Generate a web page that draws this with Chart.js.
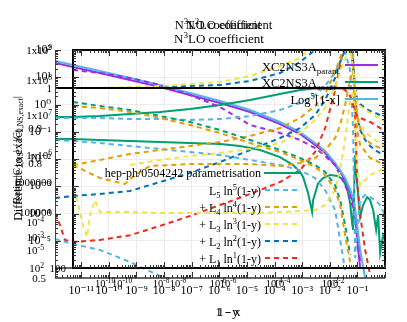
<!DOCTYPE html>
<html><head><meta charset="utf-8">
<script src="https://cdn.jsdelivr.net/npm/chart.js@4/dist/chart.umd.min.js"></script>
<style>html,body{margin:0;padding:0;background:#fff;overflow:hidden}#wrap{width:407px;height:322px}</style>
</head><body><div id="wrap"><canvas id="c" width="407" height="322"></canvas></div>
<script>
// ---- axis ticks ----
const xTickValues = [1e-11,1e-10,1e-9,1e-8,1e-7,1e-6,1e-5,1e-4,1e-3,1e-2,1e-1];
const xTickLabels = ['10⁻¹¹','10⁻¹⁰','10⁻⁹','10⁻⁸','10⁻⁷','10⁻⁶','10⁻⁵','10⁻⁴','10⁻³','10⁻²','10⁻¹'];
const yTickValues = [100,10,1,0.1,0.01,0.001,1e-4,1e-5];
const yTickLabels = ['10²','10¹','10⁰','10⁻¹','10⁻²','10⁻³','10⁻⁴','10⁻⁵'];

// ---- shared 1-y grid ----
const xGrid = [1.12e-12,5e-12,4.76e-11,5.82e-10,7.11e-9,8.69e-8,1.06e-6,1.30e-5,1.58e-4,8.4e-4,2.94e-3,6.8e-3,0.0156,0.0237,0.0359,0.0545,0.0700,0.0826,0.0977,0.126,0.191,0.289,0.439,0.666,1.0];

const paramSolid = [33.3,23.8,14.3,7.9,4.39,2.23,1.13,0.53,0.192,0.0826,0.0327,0.0166,0.006,0.00334,0.0017,6.2e-4,2.43e-4,8.8e-5,1.26e-5,1e-6,null,null,null,null,null];
const log5Solid = [39.5,28.2,16.9,9.4,5.2,2.64,1.34,0.63,0.228,0.098,0.0386,0.0197,0.0071,0.0039,0.00201,7.9e-4,3.7e-4,1.59e-4,3.8e-5,4.6e-6,4.3e-7,null,null,null,null];
const paramDashed = [null,18.5,14.3,9.4,5.2,2.23,0.81,0.177,0.090,0.050,0.0253,0.0129,0.006,0.0026,0.0011,3.7e-4,1.59e-4,5.8e-5,1.07e-5,1.66e-6,null,null,null,null,null];
const exactSolid = [0.35,0.35,0.378,0.448,0.53,0.684,0.96,1.46,2.43,3.4,3.86,3.86,3.86,3.86,3.86,3.86,3.86,3.86,3.86,3.86,3.86,3.86,3.86,3.86,3.86];
const redFlat = [4.04,4.04,4.04,4.04,4.04,4.04,4.04,4.04,4.04,4.04,4.04,4.04,4.04,4.04,3.4,2.05,0.96,0.53,0.378,0.32,0.27,0.228,0.177,0.137,0.098];
const yellowUp = [4.04,4.04,4.04,4.39,4.77,5.65,6.7,11.1,25.9,50.8,181,542,826,826,542,152,18.5,3.4,1.46,0.88,0.63,0.49,0.378,0.294,0.228];
const blueUp = [4.04,4.04,4.04,4.04,4.39,4.77,5.2,7.3,14.3,36.3,100,275,641,826,542,152,21.8,4.04,1.73,1.04,0.745,0.577,0.49,0.41,0.35];
const greenDashed = [null,1.24,0.88,0.63,0.378,0.228,0.116,0.050,0.0214,0.0109,0.006,0.00334,0.0011,3.1e-4,3.8e-5,3.0e-6,null,null,null,null,null,null,null,null,null];
const orangeDown = [null,0.88,0.745,0.53,0.32,0.177,0.090,0.0386,0.0181,0.0092,0.00508,0.0026,7.3e-4,2.05e-4,1.6e-5,1.66e-6,null,null,null,null,null,null,null,null,null];
const orangeUp = [null,0.006,0.0092,0.0153,0.0214,0.030,0.042,0.070,0.137,0.32,0.88,2.43,15.6,50.8,152,233,43,2.23,0.41,0.137,0.059,0.0386,0.030,0.0253,0.0214];
const skyDashedA = [0.32,0.32,0.32,0.294,0.294,0.27,0.294,0.378,0.63,1.13,2.23,4.77,15.6,36.3,84.5,18.5,0.116,2.33e-6,2.5e-5,3.1e-4,4.8e-4,4.0e-4,3.1e-4,2.05e-4,8.8e-5];
const skyDashedB = [0.050,0.0458,0.0386,0.030,0.0233,0.0181,0.014,0.0092,0.006,0.0039,0.00201,7.3e-4,1.34e-4,1.07e-5,8.5e-7,null,null,null,null,null,null,null,null,null,null];
const blueLow = [3.7e-4,4.39e-4,5.2e-4,6.7e-4,0.00143,0.0031,0.00776,0.0214,0.059,0.137,0.41,1.46,9.4,36.3,100,152,43,2.23,0.41,0.116,0.050,0.030,0.0214,0.0166,0.014];

// series with their own 1-y points
const refX = [1.12e-12,1.0];
const refY = [4.04,4.04];
const redLowX = [1.12e-12,1.69e-12,2.57e-12,5e-12,4.76e-11,5.82e-10,7.11e-9,8.69e-8,1.06e-6,1.30e-5,1.58e-4,8.4e-4,2.94e-3,6.8e-3,0.0156,0.0237,0.0359,0.0545,0.0700,0.0826,0.0977,0.126,0.191,0.289];
const redLowY = [1.04e-4,3.8e-5,1.07e-5,9.0e-6,1.07e-5,1.6e-5,3.5e-5,8.1e-5,2.05e-4,5.2e-4,1.43e-3,3.9e-3,0.0181,0.137,3.4,28.2,233,355,43,0.27,0.0017,8.8e-5,4.6e-6,5.5e-7];
const orangeMidX = [5e-12,4.76e-11,3.84e-10,8.83e-10,3.09e-9,8.69e-8,1.06e-6,1.30e-5,1.58e-4,8.4e-4,2.94e-3,6.8e-3,0.0156,0.0237,0.0359,0.0545,0.0700,0.0826,0.0977,0.126,0.289,1.0];
const orangeMidY = [0.006,0.00201,0.00121,0.0026,0.00553,0.00656,0.00656,0.00656,0.00553,0.0071,0.0109,0.0214,0.059,0.177,0.96,7.9,18.5,1.46,0.116,0.0327,0.0109,0.006];
const skyLowX = [1.12e-12,5e-12,4.76e-11,5.82e-10,7.11e-9,3.78e-8];
const skyLowY = [1.16e-5,7.6e-6,4.6e-6,1.66e-6,5.1e-7,1.56e-7];
const yellowLowX = [5e-12,7.0e-12,9.0e-12,1.15e-11,1.61e-11,2.07e-11,3.14e-11,4.76e-11,5.82e-10,7.11e-9,8.69e-8,1.06e-6,1.30e-5,1.58e-4,8.4e-4,2.94e-3,6.8e-3,0.0156,0.0237,0.0359,0.0545,0.0700,0.0826,0.0977,0.126,0.289,1.0];
const yellowLowY = [8.6e-4,3.1e-4,1.13e-4,3.8e-5,1.37e-5,8.8e-5,3.1e-4,1.13e-4,1.13e-4,1.04e-4,1.04e-4,1.04e-4,1.04e-4,1.13e-4,1.24e-4,1.34e-4,2.05e-4,7.3e-4,0.0039,0.050,1.46,3.4,0.116,0.0039,0.0011,0.0026,0.00468];
const yellowMidX = [5.82e-10,7.11e-9,8.69e-8,1.06e-6,1.30e-5,1.58e-4,8.4e-4,2.94e-3,6.8e-3,0.0156,0.0237,0.0359,0.0545,0.0700,0.0826,0.0977,0.126,0.191,0.439,1.0];
const yellowMidY = [0.006,0.0092,0.0129,0.0166,0.0233,0.0386,0.090,0.27,0.745,4.04,15.6,50.8,100,28.2,2.23,0.53,0.177,0.098,0.050,0.030];
const hepX = [1.12e-12,5e-12,4.76e-11,5.82e-10,7.11e-9,8.69e-8,1.06e-6,5.64e-6,2.99e-5,1.58e-4,4.69e-4,8.4e-4,1.08e-3,1.64e-3,2.29e-3,2.49e-3,3.78e-3,5.73e-3,0.01026,0.0200,0.0304,0.0424,0.0545,0.0643,0.0700,0.0826,0.0977,0.126,0.161,0.225,0.289,0.372,0.477,0.564,0.666,0.855,1.0];
const hepY = [0.0542,0.0542,0.050,0.0458,0.042,0.0386,0.0355,0.030,0.0214,0.0118,0.006,0.00334,0.0022,5.65e-4,1.13e-4,3.1e-4,0.0013,0.00201,0.0026,0.00238,0.0017,8.6e-4,2.43e-4,4.5e-5,2.5e-5,0.014,0.0013,7.4e-5,2.05e-4,4.0e-4,3.1e-4,1.34e-4,2.5e-5,8.8e-5,3.55e-6,1.6e-5,1.07e-5];

const COL = {purple:'#9a2ee0', green:'#009E73', sky:'#56B4E9', orange:'#E69F00', yellow:'#F0E442', blue:'#0072B2', red:'#EE2A1B', black:'#000000'};
const FONT = "'Liberation Serif','DejaVu Serif',serif";

function pts(xs, ys){ return xs.map((x,i)=>({x:x, y:ys[i]})); }
function ds(label, xs, ys, color, dashed, width){
  return {label, data: pts(xs, ys), borderColor: color, backgroundColor: color, borderWidth: width||2,
    borderDash: dashed ? [5,4] : [], pointRadius: 0, fill: false, tension: 0, spanGaps: false};
}

const datasets = [
  ds('ref', refX, refY, COL.black, false, 1.8),
  ds('L1a', xGrid, redFlat, COL.red, true),
  ds('L3a', xGrid, yellowUp, COL.yellow, true),
  ds('L2a', xGrid, blueUp, COL.blue, true),
  ds('L4a', xGrid, orangeDown, COL.orange, true),
  ds('G1', xGrid, greenDashed, COL.green, true),
  ds('L4b', xGrid, orangeUp, COL.orange, true),
  ds('L4c', orangeMidX, orangeMidY, COL.orange, true),
  ds('L3b', yellowLowX, yellowLowY, COL.yellow, true),
  ds('L3c', yellowMidX, yellowMidY, COL.yellow, true),
  ds('L2b', xGrid, blueLow, COL.blue, true),
  ds('L5a', xGrid, skyDashedA, COL.sky, true),
  ds('L5b', xGrid, skyDashedB, COL.sky, true),
  ds('L5c', skyLowX, skyLowY, COL.sky, true),
  ds('L1b', redLowX, redLowY, COL.red, true),
  ds('paramDashed', xGrid, paramDashed, COL.purple, true),
  ds('hep-ph/0504242 parametrisation', hepX, hepY, COL.green, false),
  ds('XC2NS3A exact', xGrid, exactSolid, COL.green, false),
  ds('Log5[1-x]', xGrid, log5Solid, COL.sky, false),
  ds('XC2NS3A param', xGrid, paramSolid, COL.purple, false)
];

function rich(ctx, parts, x, y, align, size){
  const f = s => s.toFixed(1) + 'px ' + FONT;
  let w = 0;
  const widths = parts.map(p => { ctx.font = f(p[1] ? size*0.7 : size); const m = ctx.measureText(p[0]).width; w += m; return m; });
  let cx = align === 'right' ? x - w : (align === 'center' ? x - w/2 : x);
  ctx.textAlign = 'left'; ctx.textBaseline = 'alphabetic';
  parts.forEach((p,i) => {
    ctx.font = f(p[1] ? size*0.7 : size);
    const dy = p[1] === 1 ? -size*0.38 : (p[1] === -1 ? size*0.25 : 0);
    ctx.fillText(p[0], cx, y + dy);
    cx += widths[i];
  });
}
function seg(ctx, x1, y1, x2, y2){ ctx.beginPath(); ctx.moveTo(x1, y1); ctx.lineTo(x2, y2); ctx.stroke(); }

const overlay = {
  id: 'overlay',
  afterDatasetsDraw(chart){
    const ctx = chart.ctx, xs = chart.scales.x, ys = chart.scales.y, a = chart.chartArea;
    const boxL = 73, boxB = 268;
    ctx.save();
    ctx.strokeStyle = '#444'; ctx.lineWidth = 1;
    seg(ctx, a.left + 0.5, a.top, a.left + 0.5, a.bottom);
    ctx.lineWidth = 1.6; ctx.strokeStyle = '#333';
    seg(ctx, a.left, boxB, a.right, boxB);
    seg(ctx, a.left, a.bottom, a.right, a.bottom);
    ctx.strokeStyle = '#000'; ctx.lineWidth = 2;
    ctx.strokeRect(boxL, a.top, a.right - boxL, boxB - a.top);
    ctx.lineWidth = 1; ctx.strokeStyle = '#333';
    for (let d = -12; d <= 0; d++) for (let k = 1; k <= 9; k++) {
      const v = k * Math.pow(10, d);
      if (v < xs.min || v > xs.max) continue;
      const px = Math.round(xs.getPixelForValue(v)) + 0.5, L = k === 1 ? 6 : 3;
      if (px >= boxL) { seg(ctx, px, a.top, px, a.top + L); seg(ctx, px, boxB, px, boxB - L); }
      seg(ctx, px, a.bottom, px, a.bottom - L);
    }
    for (let d = -7; d <= 2; d++) for (let k = 1; k <= 9; k++) {
      const v = k * Math.pow(10, d);
      if (v < ys.min || v > ys.max) continue;
      const py = Math.round(ys.getPixelForValue(v)) + 0.5, L = k === 1 ? 6 : 3;
      if (py <= boxB) { seg(ctx, boxL, py, boxL + L, py); seg(ctx, a.right, py, a.right - L, py); }
      seg(ctx, a.left, py, a.left + L, py);
    }
    ctx.restore();
  },
  afterDraw(chart){
    const ctx = chart.ctx;
    ctx.save();
    ctx.fillStyle = '#000';
    // titles
    rich(ctx, [['N',0],['3',1],['LO coefficient',0]], 218, 29, 'center', 12.5);
    rich(ctx, [['N',0],['2',1],['LO coefficient',0]], 229, 29, 'center', 12.5);
    rich(ctx, [['N',0],['3',1],['LO coefficient',0]], 219, 43, 'center', 13);
    // axis titles
    rich(ctx, [['1 - y',0]], 227, 316, 'center', 12.5);
    rich(ctx, [['1 - x',0]], 229, 316, 'center', 12.5);
    ctx.save(); ctx.translate(22, 175); ctx.rotate(-Math.PI/2);
    rich(ctx, [['Difference to exact',0]], 0, 0, 'center', 12);
    ctx.restore();
    ctx.save(); ctx.translate(20, 150); ctx.rotate(-Math.PI/2);
    rich(ctx, [['Ratio |C',0],['2,NS',-1],['| / |C',0],['2,NS,exact',-1],['|',0]], 0, 0, 'center', 11);
    ctx.restore();
    // secondary (overlapped) y labels
    const ylab = [[[['1x10',0],['9',1]],52,54],[[['1x10',0],['8',1]],52,84],[[['1x10',0],['7',1]],52,119],
      [[['1x10',0],['6',1]],52,159],[[['1000000',0]],52,186],[[['100000',0]],52,216],[[['1',0]],52,92],
      [[['0.9',0]],42,132],[[['0.8',0]],42,167],[[['10',0],['-4',1]],44,226],[[['10',0],['-3',1]],44,241],
      [[['10',0],['-5',1]],44,254],[[['10',0],['2',1]],44,272],[[['100',0]],66,272],[[['0.5',0]],46,282]];
    ylab.forEach(l => rich(ctx, l[0], l[1], l[2], 'right', 11));
    // secondary x labels
    const xlab = [['-10',105],['-10',122],['-8',161],['-8',178],['-6',218],['-6',228],['-4',274],['-4',282],['-2',330],['-2',336]];
    xlab.forEach(l => rich(ctx, [['10',0],[l[0],1]], l[1], 287, 'center', 10.5));
    // upper legend
    rich(ctx, [['XC2NS3A',0],['param',-1]], 262, 71, 'left', 12.5);
    rich(ctx, [['XC2NS3A',0],['exact',-1]], 262, 87, 'left', 12.5);
    rich(ctx, [['Log',0],['5',1],['[1-x]',0]], 340, 104, 'right', 12.5);
    ctx.lineWidth = 2;
    ctx.strokeStyle = COL.purple; seg(ctx, 345, 65, 378, 65);
    ctx.strokeStyle = COL.green; seg(ctx, 345, 82, 378, 82);
    ctx.strokeStyle = COL.sky; seg(ctx, 345, 99, 378, 99);
    // lower legend
    rich(ctx, [['hep-ph/0504242 parametrisation',0]], 261, 177, 'right', 12);
    rich(ctx, [['L',0],['5',-1],[' ln',0],['5',1],['(1-y)',0]], 261, 195, 'right', 12);
    rich(ctx, [['+ L',0],['4',-1],[' ln',0],['4',1],['(1-y)',0]], 261, 212, 'right', 12);
    rich(ctx, [['+ L',0],['3',-1],[' ln',0],['3',1],['(1-y)',0]], 261, 229, 'right', 12);
    rich(ctx, [['+ L',0],['2',-1],[' ln',0],['2',1],['(1-y)',0]], 261, 246, 'right', 12);
    rich(ctx, [['+ L',0],['1',-1],[' ln',0],['1',1],['(1-y)',0]], 261, 263, 'right', 12);
    ctx.strokeStyle = COL.green; seg(ctx, 264, 173, 300, 173);
    ctx.setLineDash([5,4]);
    ctx.strokeStyle = COL.sky; seg(ctx, 265, 190, 300, 190);
    ctx.strokeStyle = COL.orange; seg(ctx, 265, 207, 300, 207);
    ctx.strokeStyle = COL.yellow; seg(ctx, 265, 224, 300, 224);
    ctx.strokeStyle = COL.blue; seg(ctx, 265, 241, 300, 241);
    ctx.strokeStyle = COL.red; seg(ctx, 265, 258, 300, 258);
    ctx.restore();
  }
};

new Chart(document.getElementById('c'), {
  type: 'line',
  data: { datasets },
  plugins: [overlay],
  options: {
    responsive: false, animation: false, devicePixelRatio: 1,
    layout: { padding: { top: 50, right: 22, left: 0, bottom: 0 } },
    plugins: { legend: { display: false }, title: { display: false }, tooltip: { enabled: false } },
    scales: {
      x: {
        type: 'logarithmic', min: 1.12e-12, max: 1.0,
        afterBuildTicks: s => { s.ticks = xTickValues.map(v => ({ value: v })); },
        afterFit: s => { s.height = 44; },
        ticks: { callback: (v, i) => xTickLabels[i], autoSkip: false, maxRotation: 0, padding: 6,
                 color: '#000', font: { family: FONT, size: 12 } },
        grid: { color: '#ececec', drawTicks: false },
        border: { display: false }
      },
      y: {
        type: 'logarithmic', min: 4.3e-7, max: 100,
        afterBuildTicks: s => { s.ticks = yTickValues.map(v => ({ value: v })); },
        afterFit: s => { s.width = 55; },
        ticks: { callback: (v, i) => yTickLabels[i], autoSkip: false, padding: 4,
                 color: '#000', font: { family: FONT, size: 12 } },
        grid: { color: '#ececec', drawTicks: false },
        border: { display: false }
      }
    }
  }
});
</script>
</body></html>
